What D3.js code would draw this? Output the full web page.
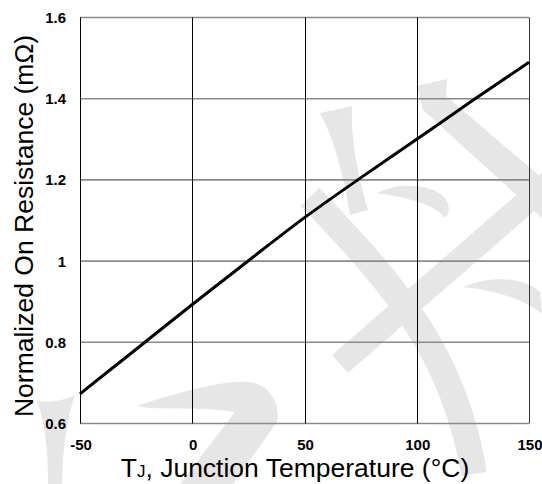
<!DOCTYPE html>
<html>
<head>
<meta charset="utf-8">
<script src="https://cdn.jsdelivr.net/npm/d3@7"></script>
<style>
  html, body { margin: 0; padding: 0; background: #fff; }
  svg { display: block; }
  text { font-family: "Liberation Sans", Arial, sans-serif; fill: #000; }
</style>
</head>
<body>
<svg id="chart" width="542" height="484"></svg>
<script>
// Junction temperature (°C) and normalized on-resistance
const temperatures = [-50, -25, 0, 25, 50, 75, 100, 125, 150];
const resistance   = [0.673, 0.783, 0.893, 1.001, 1.107, 1.205, 1.300, 1.396, 1.490];

const xTicks = [-50, 0, 50, 100, 150];
const yTicks = [0.6, 0.8, 1.0, 1.2, 1.4, 1.6];
const yTickLabels = ["0.6", "0.8", "1", "1.2", "1.4", "1.6"];

const svg = d3.select("#chart");

const x = d3.scaleLinear().domain([-50, 150]).range([80, 529]);
const y = d3.scaleLinear().domain([0.6, 1.6]).range([423.5, 17.5]);

// light background emblem
const wm = svg.append("g").attr("fill", "#e6e6e6").attr("stroke", "none");
wm.append("path").attr("d", "M37,401 Q56,404 75,395 Q63,430 62,484 L48,484 Q48,430 37,401 Z");
wm.append("path").attr("d", "M137,406 C170,395 220,380 250,382 C270,385 281,405 277,422 L233,484 L180,484 L235,412 C200,406 160,411 137,406 Z");
wm.append("path").attr("d", "M320,113 L352,106 Q350,150 368,210 L350,215 Q340,150 320,113 Z");
wm.append("path").attr("fill", "none").attr("stroke", "#e6e6e6").attr("stroke-width", 26)
  .attr("d", "M310,197 C395,285 455,355 474,474");
wm.append("path").attr("d", "M417,86 L447,79 L446,96 L542,178 L542,218 L423,110 Z");
wm.append("path").attr("fill", "none").attr("stroke", "#e6e6e6").attr("stroke-width", 24)
  .attr("d", "M552,180 L340,364");
wm.append("path").attr("d", "M377,193 C395,183 430,182 445,198 C452,208 448,218 444,217 C435,205 410,198 377,193 Z");
wm.append("path").attr("d", "M463,287 C490,275 525,277 540,292 L542,314 C525,300 495,290 463,287 Z");

// horizontal grid (gray)
svg.append("g").selectAll("line").data(yTicks).join("line")
  .attr("x1", x(-50)).attr("x2", x(150))
  .attr("y1", d => y(d)).attr("y2", d => y(d))
  .attr("stroke", "#8a8a8a").attr("stroke-width", 1.6);

// vertical grid (black)
svg.append("g").selectAll("line").data(xTicks).join("line")
  .attr("x1", d => Math.round(x(d)) + 0.5).attr("x2", d => Math.round(x(d)) + 0.5)
  .attr("y1", y(1.6)).attr("y2", y(0.6))
  .attr("stroke", d => d === 150 ? "#333" : "#000").attr("stroke-width", 1);

// curve
const line = d3.line()
  .x((d, i) => x(temperatures[i]))
  .y(d => y(d))
  .curve(d3.curveMonotoneX);
svg.append("path").datum(resistance)
  .attr("d", line)
  .attr("fill", "none").attr("stroke", "#000").attr("stroke-width", 3);

// y tick labels
svg.append("g").selectAll("text").data(yTicks).join("text")
  .attr("x", 66).attr("y", d => y(d))
  .attr("dy", "0.36em")
  .attr("text-anchor", "end")
  .attr("font-size", 15).attr("font-weight", "bold")
  .text((d, i) => yTickLabels[i]);

// x tick labels
svg.append("g").selectAll("text").data(xTicks).join("text")
  .attr("x", d => x(d) + 1).attr("y", 450)
  .attr("text-anchor", "middle")
  .attr("font-size", 15).attr("font-weight", "bold")
  .text(d => d);

// axis titles
const xt = svg.append("text")
  .attr("x", 295).attr("y", 477)
  .attr("text-anchor", "middle")
  .attr("font-size", 26.5);
xt.append("tspan").text("T");
xt.append("tspan").attr("font-size", 17).text("J");
xt.append("tspan").text(", Junction Temperature (°C)");

svg.append("text")
  .attr("transform", "translate(33,226) rotate(-90)")
  .attr("text-anchor", "middle")
  .attr("font-size", 26.5)
  .text("Normalized On Resistance (mΩ)");
</script>
</body>
</html>
